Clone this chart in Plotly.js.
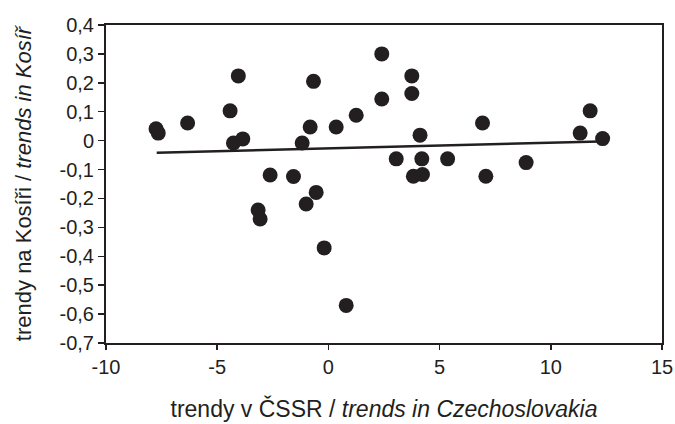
<!DOCTYPE html>
<html>
<head>
<meta charset="utf-8">
<script src="https://cdn.plot.ly/plotly-3.0.1.min.js"></script>
<style>html,body{margin:0;padding:0;background:#fff;}#chart{width:675px;height:424px;}</style>
</head>
<body>
<div id="chart"></div>
<script>
// trends in Czechoslovakia (x) vs trends in Kosíř (y)
const trendCSSR = [-7.75, -7.65, -6.33, -4.42, -4.05, -4.27, -3.85, -2.62, -1.57, -3.16, -3.07, -1.00,
  -0.55, -0.19, 0.80, -0.67, -0.82, -1.18, 0.35, 1.25, 2.40, 2.40, 3.75, 3.75, 4.12, 3.05, 4.20,
  5.36, 3.82, 4.23, 6.93, 7.08, 8.89, 11.32, 11.77, 12.33];
const trendKosir = [0.041, 0.026, 0.061, 0.103, 0.224, -0.008, 0.006, -0.119, -0.124, -0.240, -0.271, -0.219,
  -0.179, -0.371, -0.570, 0.205, 0.047, -0.008, 0.047, 0.088, 0.300, 0.144, 0.224, 0.163, 0.019, -0.063, -0.063,
  -0.063, -0.123, -0.117, 0.061, -0.123, -0.076, 0.026, 0.103, 0.007];
// linear trend line endpoints
const fitX = [-7.72, 12.2];
const fitY = [-0.042, -0.003];
const xTicks = [-10, -5, 0, 5, 10, 15];
const yTicks = [0.4, 0.3, 0.2, 0.1, 0, -0.1, -0.2, -0.3, -0.4, -0.5, -0.6, -0.7];

const ink = '#231f20';
const data = [
  {x: trendCSSR, y: trendKosir, type: 'scatter', mode: 'markers',
   marker: {color: ink, size: 15}, hoverinfo: 'skip', showlegend: false},
  {x: fitX, y: fitY, type: 'scatter', mode: 'lines',
   line: {color: ink, width: 2.5}, hoverinfo: 'skip', showlegend: false}
];
const layout = {
  width: 675, height: 424,
  margin: {l: 106, r: 13, t: 25, b: 81},
  paper_bgcolor: '#fff', plot_bgcolor: '#fff',
  separators: ', ',
  font: {family: 'Liberation Sans, Arial, sans-serif', color: ink, size: 20},
  showlegend: false,
  xaxis: {
    range: [-10, 15], tickvals: xTicks, ticktext: xTicks.map(String),
    showgrid: false, zeroline: false, showline: true, mirror: true,
    linecolor: ink, linewidth: 2, ticks: 'outside', ticklen: 5, tickwidth: 1.5, tickcolor: ink,
    tickfont: {size: 20},
    title: {text: 'trendy v ČSSR / <i>trends in Czechoslovakia</i>', font: {size: 23}, standoff: 24}
  },
  yaxis: {
    range: [-0.7, 0.4], tickvals: yTicks, ticktext: yTicks.map(v => String(v).replace('.', ',')),
    showgrid: false, zeroline: false, showline: true, mirror: true,
    linecolor: ink, linewidth: 2, ticks: 'outside', ticklen: 6, tickwidth: 1.5, tickcolor: ink,
    tickfont: {size: 20},
    title: {text: 'trendy na Kosíři / <i>trends in Kosíř</i>', font: {size: 22}, standoff: 22}
  }
};
Plotly.newPlot('chart', data, layout, {displayModeBar: false, staticPlot: true});
</script>
</body>
</html>
